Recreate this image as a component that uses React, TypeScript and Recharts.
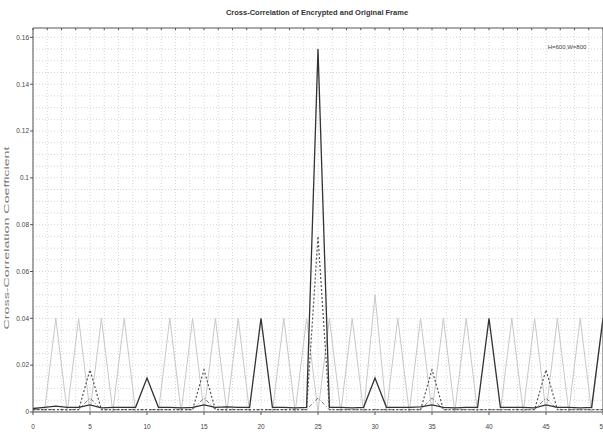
import {
  LineChart,
  Line,
  XAxis,
  YAxis,
  ReferenceLine,
} from "recharts";

// iteration index 0..50
const iterations = [
  0, 1, 2, 3, 4, 5, 6, 7, 8, 9, 10, 11, 12, 13, 14, 15, 16, 17, 18, 19, 20, 21, 22, 23, 24, 25,
  26, 27, 28, 29, 30, 31, 32, 33, 34, 35, 36, 37, 38, 39, 40, 41, 42, 43, 44, 45, 46, 47, 48, 49, 50,
];

// solid black series
const solidMain = [
  0.0015, 0.002, 0.0025, 0.002, 0.002, 0.003, 0.0018, 0.002, 0.002, 0.002, 0.0145, 0.002, 0.002,
  0.0018, 0.002, 0.003, 0.002, 0.0022, 0.002, 0.002, 0.04, 0.002, 0.002, 0.0018, 0.002, 0.155,
  0.002, 0.002, 0.0018, 0.002, 0.0145, 0.002, 0.002, 0.002, 0.0022, 0.003, 0.002, 0.0018, 0.002,
  0.002, 0.04, 0.002, 0.002, 0.002, 0.0018, 0.003, 0.002, 0.002, 0.0018, 0.002, 0.04,
];

// dashed series
const dashedSeries = [
  0.001, 0.001, 0.001, 0.001, 0.001, 0.018, 0.001, 0.001, 0.001, 0.001, 0.001, 0.001, 0.001,
  0.001, 0.001, 0.018, 0.001, 0.001, 0.001, 0.001, 0.001, 0.001, 0.001, 0.001, 0.001, 0.075,
  0.001, 0.001, 0.001, 0.001, 0.001, 0.001, 0.001, 0.001, 0.001, 0.018, 0.001, 0.001, 0.001,
  0.001, 0.001, 0.001, 0.001, 0.001, 0.001, 0.018, 0.001, 0.001, 0.001, 0.001, 0.001,
];

// small dash-dot series
const dashDotSeries = [
  0.001, 0.001, 0.001, 0.001, 0.001, 0.006, 0.001, 0.001, 0.001, 0.001, 0.001, 0.001, 0.001,
  0.001, 0.001, 0.006, 0.001, 0.001, 0.001, 0.001, 0.001, 0.001, 0.001, 0.001, 0.001, 0.006,
  0.001, 0.001, 0.001, 0.001, 0.001, 0.001, 0.001, 0.001, 0.001, 0.006, 0.001, 0.001, 0.001,
  0.001, 0.001, 0.001, 0.001, 0.001, 0.001, 0.006, 0.001, 0.001, 0.001, 0.001, 0.001,
];

// light grey zig-zag series
const greySeries = [
  0, 0, 0.04, 0, 0.04, 0, 0.04, 0, 0.04, 0, 0, 0, 0.04, 0, 0.04, 0, 0.04, 0, 0.04, 0, 0, 0,
  0.04, 0, 0.04, 0, 0.04, 0, 0.04, 0, 0.05, 0, 0.04, 0, 0.04, 0, 0.04, 0, 0.04, 0, 0, 0, 0.04,
  0, 0.04, 0, 0.04, 0, 0.04, 0, 0.04,
];

const xTicks = [0, 5, 10, 15, 20, 25, 30, 35, 40, 45, 50];
const yTicks = [0, 0.02, 0.04, 0.06, 0.08, 0.1, 0.12, 0.14, 0.16];
const xGrid = Array.from({ length: 41 }, (_, i) => i * 1.25);
const yGrid = Array.from({ length: 33 }, (_, i) => i * 0.005);

const data = iterations.map((it, i) => ({
  it,
  solid: solidMain[i],
  dashed: dashedSeries[i],
  dashDot: dashDotSeries[i],
  grey: greySeries[i],
}));

const font = "'Liberation Sans', Arial, sans-serif";
const tickStyle = { fontSize: 6.5, fill: "#444", fontFamily: font };

export default function App() {
  return (
    <div style={{ position: "absolute", left: 0, top: 0, background: "#fff" }}>
      <LineChart
        width={603}
        height={434}
        data={data}
        margin={{ top: 28, right: 0, bottom: 0, left: 0 }}
      >
        {xGrid.map((x) => (
          <ReferenceLine key={"gx" + x} x={x} stroke="#d6d6d6" strokeDasharray="1 2" />
        ))}
        {yGrid.map((y) => (
          <ReferenceLine key={"gy" + y} y={y} stroke="#d6d6d6" strokeDasharray="1 2" />
        ))}
        <XAxis
          dataKey="it"
          type="number"
          domain={[0, 50]}
          ticks={xTicks}
          height={22}
          tick={tickStyle}
          tickSize={3}
          tickMargin={9}
          stroke="#555"
          interval={0}
          label={{
            content: () => (
              <text
                x={317}
                y={439}
                textAnchor="middle"
                fontSize={7}
                fill="#555"
                fontFamily={font}
              >
                Number of Iterations
              </text>
            ),
          }}
        />
        <XAxis
          xAxisId="bottomMinor"
          dataKey="it"
          type="number"
          domain={[0, 50]}
          ticks={xGrid}
          height={0}
          mirror
          tickSize={2}
          tickFormatter={() => ""}
          axisLine={false}
          stroke="#555"
          interval={0}
        />
        <XAxis
          xAxisId="top"
          dataKey="it"
          type="number"
          orientation="top"
          domain={[0, 50]}
          ticks={xGrid}
          height={1}
          mirror
          tickSize={2}
          tickFormatter={() => ""}
          stroke="#555"
          interval={0}
          label={{
            content: () => (
              <g>
                <text
                  x={317}
                  y={15}
                  textAnchor="middle"
                  fontSize={7.5}
                  fontWeight="bold"
                  fill="#333"
                  fontFamily={font}
                >
                  Cross-Correlation of Encrypted and Original Frame
                </text>
                <text
                  x={567}
                  y={49}
                  textAnchor="middle"
                  fontSize={6}
                  fill="#444"
                  fontFamily={font}
                >
                  H=600,W=800
                </text>
              </g>
            ),
          }}
        />
        <YAxis
          type="number"
          domain={[0, 0.164]}
          ticks={yTicks}
          width={33}
          tick={tickStyle}
          tickSize={3}
          tickMargin={1}
          stroke="#555"
          interval={0}
          allowDataOverflow
          label={{
            content: () => (
              <text
                x={9}
                y={238}
                textAnchor="middle"
                transform="rotate(-90 9 238)"
                fontSize={6.5}
                fill="#777"
                fontFamily={font}
                textLength={183}
                lengthAdjust="spacingAndGlyphs"
              >
                Cross-Correlation Coefficient
              </text>
            ),
          }}
        />
        <YAxis
          yAxisId="leftMinor"
          type="number"
          domain={[0, 0.164]}
          ticks={yGrid}
          width={0}
          mirror
          tickSize={2}
          tickFormatter={() => ""}
          axisLine={false}
          stroke="#555"
          interval={0}
        />
        <YAxis
          yAxisId="right"
          orientation="right"
          type="number"
          domain={[0, 0.164]}
          ticks={yGrid}
          width={2}
          mirror
          tickSize={2}
          tickFormatter={() => ""}
          stroke="#555"
          interval={0}
        />
        <Line
          dataKey="grey"
          stroke="#c8c8c8"
          strokeWidth={1}
          dot={false}
          isAnimationActive={false}
        />
        <Line
          dataKey="dashDot"
          stroke="#777"
          strokeWidth={1}
          strokeDasharray="4 2 1 2"
          dot={false}
          isAnimationActive={false}
        />
        <Line
          dataKey="dashed"
          stroke="#555"
          strokeWidth={1.2}
          strokeDasharray="2 2"
          dot={false}
          isAnimationActive={false}
        />
        <Line
          dataKey="solid"
          stroke="#333"
          strokeWidth={1.3}
          dot={false}
          isAnimationActive={false}
        />
      </LineChart>
    </div>
  );
}
